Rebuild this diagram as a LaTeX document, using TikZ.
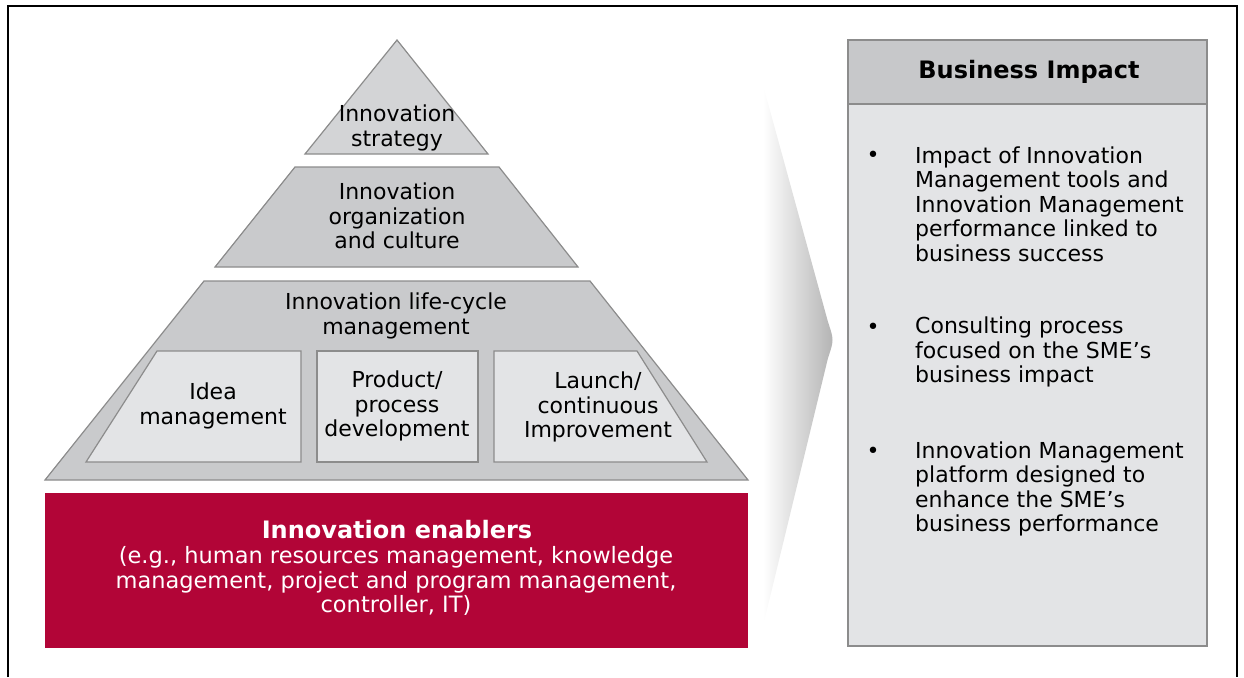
\documentclass[tikz,border=0pt]{standalone}
\usepackage{fontspec}
\setmainfont{DejaVu Sans}
\usetikzlibrary{shadings}
\definecolor{tiergray}{HTML}{C9CACC}
\definecolor{topgray}{HTML}{D3D4D6}
\definecolor{cellgray}{HTML}{E3E4E6}
\definecolor{linegray}{HTML}{8C8C8C}
\definecolor{enablred}{HTML}{B20537}
\definecolor{headgray}{HTML}{C7C8CA}
\begin{document}
\begin{tikzpicture}[x=1pt,y=-1pt]
\tikzstyle{tier}=[draw=linegray,fill=tiergray,line width=1.2pt]
\tikzstyle{cell}=[draw=linegray,fill=cellgray,line width=1.2pt]
\tikzstyle{every node}=[inner sep=0pt,align=center,font=\fontsize{22}{24.5}\selectfont];
\useasboundingbox (0,0) rectangle (1244,677);
\draw[line width=2pt] (8,677) -- (8,6) -- (1237,6) -- (1237,677);
\draw[tier,fill=topgray] (397,40) -- (488,154) -- (305,154) -- cycle;
\draw[tier] (295,167) -- (499,167) -- (578,267) -- (215,267) -- cycle;
\draw[tier] (204,281) -- (590,281) -- (748,480) -- (45,480) -- cycle;
\draw[cell] (157,351) -- (301,351) -- (301,462) -- (86,462) -- cycle;
\draw[cell] (317,351) -- (478,351) -- (478,462) -- (317,462) -- cycle;
\draw[cell] (494,351) -- (637,351) -- (707,462) -- (494,462) -- cycle;
\fill[enablred] (45,493) rectangle (748,648);
\shade[left color=white,right color=black!30] (763,85) -- (828,322) .. controls (834,340) .. (828,358) -- (764,622) -- cycle;
\draw[draw=linegray,fill=cellgray,line width=1.2pt] (848,40) rectangle (1207,646);
\draw[draw=linegray,fill=headgray,line width=1.2pt] (848,40) rectangle (1207,104);
\node (t0) at (397,128) {Innovation\\strategy};
\node (t1) at (397,216) {Innovation\\organization\\and culture};
\node (t2) at (396,316) {Innovation life-cycle\\management};
\node (c0) at (213,406) {Idea\\management};
\node (c1) at (397,406) {Product/\\process\\development};
\node (c2) at (598,407) {Launch/\\continuous\\Improvement};
\node[text=white,font=\fontsize{24}{26}\selectfont\bfseries] (e0) at (397,530) {Innovation enablers};
\node[text=white,font=\fontsize{22.5}{24.5}\selectfont] (e1) at (396,581) {(e.g., human resources management, knowledge\\management, project and program management,\\controller, IT)};
\node[font=\fontsize{24}{26}\selectfont\bfseries] (h0) at (1029,72) {Business Impact};
\node (b1) at (873,157) {•};
\node (b2) at (873,329) {•};
\node (b3) at (873,453) {•};
\node[anchor=west,align=left] (i1) at (915,204) {Impact of Innovation\\Management tools and\\Innovation Management\\performance linked to\\business success};
\node[anchor=west,align=left] (i2) at (915,352) {Consulting process\\focused on the SME’s\\business impact};
\node[anchor=west,align=left] (i3) at (915,489) {Innovation Management\\platform designed to\\enhance the SME’s\\business performance};
\end{tikzpicture}
\end{document}
